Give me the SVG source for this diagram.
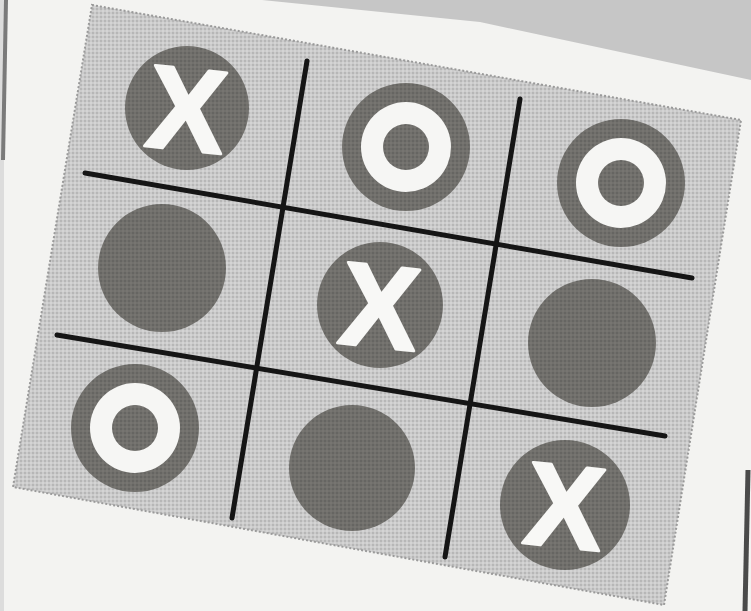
<svg xmlns="http://www.w3.org/2000/svg" width="751" height="611" viewBox="0 0 751 611">
  <defs>
    <pattern id="dots" width="4" height="4" patternUnits="userSpaceOnUse">
      <rect width="4" height="4" fill="#cbcbcb"/>
      <circle cx="1" cy="1" r="0.9" fill="#adadad"/>
      <circle cx="3" cy="3" r="0.7" fill="#e4e4e4"/>
    </pattern>
    <pattern id="dotsDark" width="4" height="4" patternUnits="userSpaceOnUse">
      <rect width="4" height="4" fill="#71706c"/>
      <circle cx="1" cy="1" r="0.9" fill="#61605d"/>
      <circle cx="3" cy="3" r="0.7" fill="#817f7b"/>
    </pattern>
  </defs>
  <style>
    .board { fill: url(#dots); stroke: #9a9a9a; stroke-width: 2; stroke-dasharray: 2 2; }
    .grid line { stroke: #151515; stroke-width: 5; stroke-linecap: round; }
    .disc { fill: url(#dotsDark); }
    .ring { fill: #f6f6f4; }
    .x { fill: #f8f8f6; stroke: #f8f8f6; stroke-width: 3; stroke-linejoin: round; font-family: "Liberation Sans", Arial, sans-serif; font-weight: bold; font-size: 118px; text-anchor: middle; }
  </style>

  <!-- background scene -->
  <rect width="751" height="611" fill="#f3f3f1"/>
  <polygon points="262,0 751,0 751,80 480,22" fill="#c6c6c6"/>
  <rect x="0" y="0" width="4" height="611" fill="#dcdcdc"/>
  <line x1="6" y1="0" x2="3" y2="160" stroke="#7a7a7a" stroke-width="4"/>
  <line x1="748" y1="470" x2="745" y2="611" stroke="#4a4a4a" stroke-width="5"/>

  <!-- board -->
  <polygon class="board" points="92,5 741,120 664,605 13,487"/>

  <!-- grid -->
  <g id="grid" class="grid">
    <line x1="307" y1="61" x2="232" y2="518"/>
    <line x1="520" y1="99" x2="445" y2="557"/>
    <line x1="85" y1="173" x2="692" y2="278"/>
    <line x1="57" y1="335" x2="665" y2="436"/>
  </g>

  <!-- row 1 -->
  <g id="cell-1-1">
    <circle class="disc" cx="187" cy="108" r="62"/>
    <text class="x" x="187" y="150" transform="rotate(6 187 108)">X</text>
  </g>
  <g id="cell-1-2">
    <circle class="disc" cx="406" cy="147" r="64"/>
    <circle class="ring" cx="406" cy="147" r="45"/>
    <circle class="disc" cx="406" cy="147" r="23"/>
  </g>
  <g id="cell-1-3">
    <circle class="disc" cx="621" cy="183" r="64"/>
    <circle class="ring" cx="621" cy="183" r="45"/>
    <circle class="disc" cx="621" cy="183" r="23"/>
  </g>

  <!-- row 2 -->
  <g id="cell-2-1">
    <circle class="disc" cx="162" cy="268" r="64"/>
  </g>
  <g id="cell-2-2">
    <circle class="disc" cx="380" cy="305" r="63"/>
    <text class="x" x="380" y="347" transform="rotate(6 380 305)">X</text>
  </g>
  <g id="cell-2-3">
    <circle class="disc" cx="592" cy="343" r="64"/>
  </g>

  <!-- row 3 -->
  <g id="cell-3-1">
    <circle class="disc" cx="135" cy="428" r="64"/>
    <circle class="ring" cx="135" cy="428" r="45"/>
    <circle class="disc" cx="135" cy="428" r="23"/>
  </g>
  <g id="cell-3-2">
    <circle class="disc" cx="352" cy="468" r="63"/>
  </g>
  <g id="cell-3-3">
    <circle class="disc" cx="565" cy="505" r="65"/>
    <text class="x" x="565" y="547" transform="rotate(6 565 505)">X</text>
  </g>
</svg>
